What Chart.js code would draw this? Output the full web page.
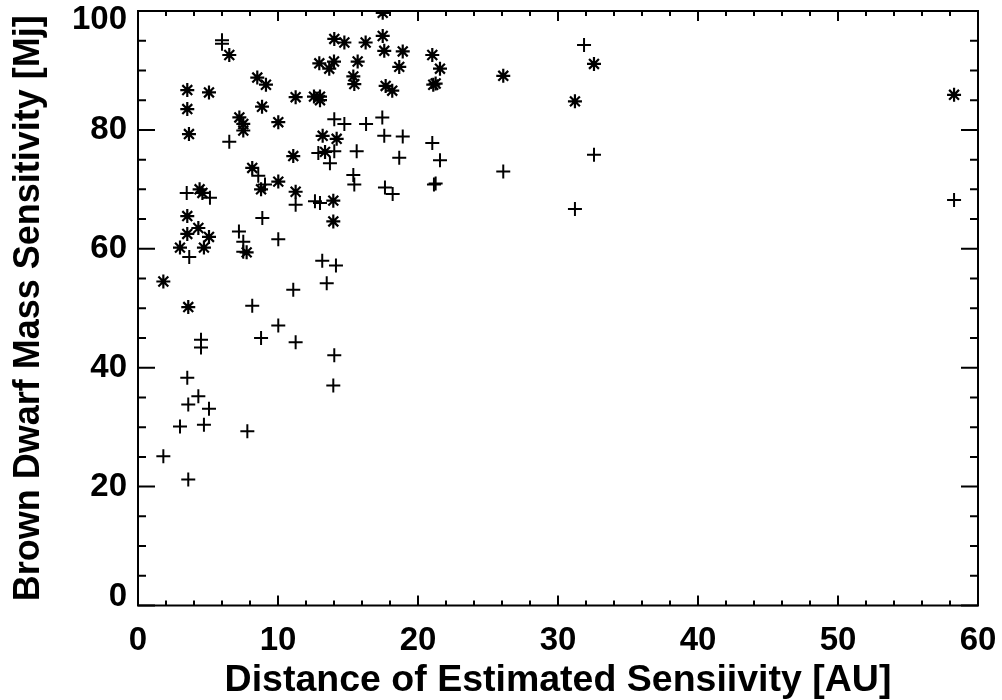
<!DOCTYPE html>
<html>
<head>
<meta charset="utf-8">
<script src="https://cdn.jsdelivr.net/npm/chart.js@4.4.0/dist/chart.umd.min.js"></script>
<style>
  body { margin: 0; background: #fff; }
  #wrap { width: 1002px; height: 700px; }
</style>
</head>
<body>
<div id="wrap"><canvas id="myChart" width="1002" height="700"></canvas></div>
<script>
//---------- data ----------
// asterisks (upper points)
const starX = [6.52,3.52,5.07,3.52,3.64,8.52,9.14,8.86,7.24,7.52,7.52,10.02,11.26,11.09,8.16,10.02,8.79,4.4,4.6,11.26,
  3.52,4.31,3.52,5.07,3.0,4.71,7.76,1.81,3.59,17.48,14.02,14.74,16.26,17.48,17.59,18.91,21.02,21.57,12.95,14.0,
  13.66,15.69,18.66,15.38,15.45,17.69,18.16,21.09,21.26,12.57,13.0,13.0,13.19,14.19,13.36,13.95,13.95,26.09,32.57,31.21,58.29];
const starY = [92.6,86.7,86.3,83.5,79.3,88.8,87.6,83.9,82.1,81.0,79.9,81.3,85.5,75.6,73.6,71.3,70.0,70.0,69.4,69.6,
  65.5,63.5,62.5,62.0,60.2,60.2,59.4,54.5,50.2,99.7,95.3,94.7,94.7,95.8,93.3,93.2,92.6,90.3,91.2,91.5,
  90.3,91.5,90.6,89.0,87.7,87.4,86.6,87.6,87.8,85.6,85.6,85.0,79.0,78.5,76.3,68.1,64.6,89.1,91.1,84.8,85.9];
// pluses (lower points)
const plusX = [6.0,6.0,6.52,8.59,9.07,3.48,5.14,11.26,8.88,7.21,7.52,10.02,7.52,3.66,11.09,8.16,10.02,8.79,11.26,4.5,
  4.5,3.52,4.31,3.59,5.07,3.0,4.71,7.81,1.81,3.59,14.02,14.74,16.29,17.45,17.59,18.91,21.02,12.88,14.02,15.62,
  18.66,21.57,13.71,15.38,15.45,17.64,18.19,21.14,21.26,12.64,13.0,13.16,14.14,13.48,14.02,13.95,31.86,32.57,26.09,31.21,58.29];
const plusY = [95.1,94.5,78.0,72.3,70.8,69.4,68.6,67.4,65.2,62.9,61.2,61.6,59.5,58.6,53.1,50.4,47.1,45.0,44.3,44.7,
  43.4,38.3,35.2,33.8,33.1,30.1,30.4,29.3,25.1,21.2,81.8,81.0,81.0,82.1,79.0,78.9,77.8,76.1,76.4,76.4,
  75.3,74.9,74.4,72.4,70.8,70.3,69.2,70.8,71.0,68.0,67.7,58.0,57.2,54.2,42.1,37.0,94.3,75.8,73.0,66.7,68.2];

const xTicks = [0,10,20,30,40,50,60];
const yTicks = [0,20,40,60,80,100];
const xTitle = 'Distance of Estimated Sensiivity [AU]';
const yTitle = 'Brown Dwarf Mass Sensitivity [Mj]';

const toPoints = (xs, ys) => xs.map((x, i) => ({x: x, y: ys[i]}));

//---------- frame with inward ticks on all four sides ----------
const frameTicks = {
  id: 'frameTicks',
  afterDraw(chart) {
    const c = chart.ctx, a = chart.chartArea;
    const xs = chart.scales.x, ys = chart.scales.y;
    c.save();
    c.strokeStyle = '#000';
    c.lineWidth = 2;
    c.strokeRect(a.left, a.top, a.right - a.left, a.bottom - a.top);
    c.beginPath();
    // x ticks, minor every 2, major every 10
    for (let v = 0; v <= 60; v += 2) {
      const px = xs.getPixelForValue(v);
      const len = v % 10 === 0 ? 10 : 5;
      c.moveTo(px, a.bottom); c.lineTo(px, a.bottom - len);
      c.moveTo(px, a.top); c.lineTo(px, a.top + len);
    }
    // y ticks, minor every 5, major every 20
    for (let v = 0; v <= 100; v += 5) {
      const py = ys.getPixelForValue(v);
      const len = v % 20 === 0 ? 17 : 8;
      c.moveTo(a.left, py); c.lineTo(a.left + len, py);
      c.moveTo(a.right, py); c.lineTo(a.right - len, py);
    }
    c.stroke();
    c.restore();
  }
};

const font = {family: '"Liberation Sans", Arial, sans-serif', weight: 'bold'};

new Chart(document.getElementById('myChart'), {
  type: 'scatter',
  data: {
    datasets: [
      {
        data: toPoints(starX, starY),
        pointStyle: 'star',
        radius: 7,
        borderColor: '#000',
        backgroundColor: '#000',
        borderWidth: 2.2,
      },
      {
        data: toPoints(plusX, plusY),
        pointStyle: 'cross',
        radius: 7,
        borderColor: '#000',
        backgroundColor: '#000',
        borderWidth: 2,
      }
    ]
  },
  options: {
    responsive: false,
    animation: false,
    layout: {padding: {top: 11, right: 24, left: 0, bottom: 0}},
    plugins: {legend: {display: false}, tooltip: {enabled: false}},
    scales: {
      x: {
        type: 'linear', min: 0, max: 60,
        afterBuildTicks: s => { s.ticks = xTicks.map(v => ({value: v})); },
        afterFit: s => { s.height = 94.5; s.paddingLeft = 0; s.paddingRight = 0; },
        grid: {display: false, drawTicks: false},
        border: {display: false},
        ticks: {color: '#000', padding: 16, font: {...font, size: 33}},
        title: {display: true, text: xTitle, color: '#000', padding: {top: 0, bottom: 1}, font: {...font, size: 37.5, lineHeight: 1}}
      },
      y: {
        type: 'linear', min: 0, max: 100,
        afterBuildTicks: s => { s.ticks = yTicks.map(v => ({value: v})); },
        afterFit: s => { s.width = 138; s.paddingTop = 0; s.paddingBottom = 0; },
        grid: {display: false, drawTicks: false},
        border: {display: false},
        ticks: {
          color: '#000', padding: 11, font: {...font, size: 33, lineHeight: 0.52},
          // end labels sit just inside the frame, as in the original
          callback: v => v === 100 ? ['', '100'] : v === 0 ? ['0', ''] : String(v)
        },
        title: {display: true, text: yTitle, color: '#000', padding: {top: 11, bottom: 0}, font: {...font, size: 36, lineHeight: 1}}
      }
    }
  },
  plugins: [frameTicks]
});
</script>
</body>
</html>
